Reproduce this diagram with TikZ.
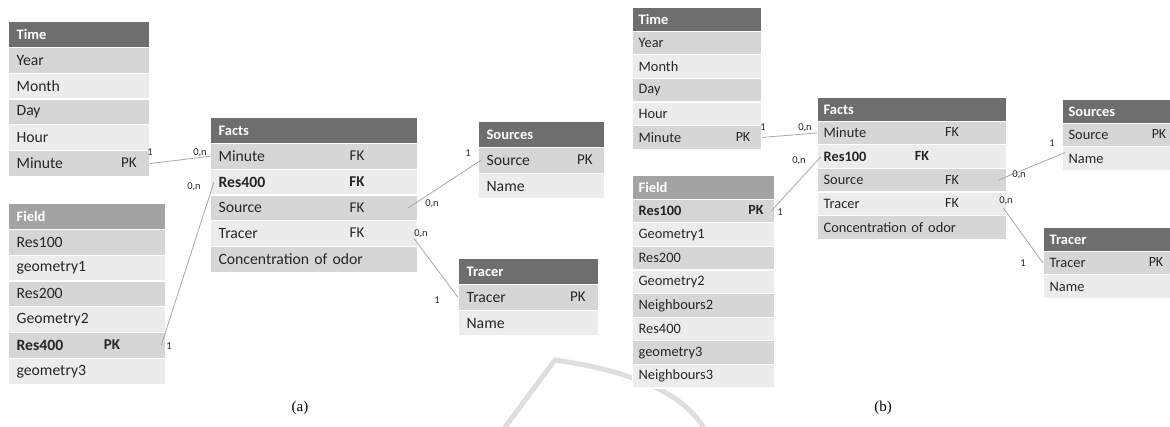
\documentclass[tikz,border=0pt]{standalone}
\usepackage{fontspec}
\newfontfamily\calib{Carlito}
\newfontfamily\capfont{Liberation Serif}
\definecolor{hdr}{HTML}{6E6E6E}
\definecolor{hdrl}{HTML}{A3A3A3}
\definecolor{rowd}{HTML}{D6D6D6}
\definecolor{rowl}{HTML}{ECECEC}
\definecolor{txt}{HTML}{262626}
\definecolor{lnk}{HTML}{A8A8A8}
\tikzset{
  cell/.style={draw=white, line width=1.2pt, anchor=north west, inner ysep=0pt, align=left, text=txt},
  cella/.style={cell, inner xsep=8pt, minimum height=25.8pt, font=\calib\fontsize{15.7}{16}\selectfont},
  cellb/.style={cell, inner xsep=6pt, minimum height=23.6pt, font=\calib\fontsize{14.4}{15}\selectfont},
  tw/.style={text width=#1pt},
  hd/.style={fill=hdr, text=white, font=\calib\bfseries\fontsize{14.5}{15}\selectfont},
  hdl/.style={hd, fill=hdrl},
  rd/.style={fill=rowd},
  rl/.style={fill=rowl},
  keya/.style={text=txt, inner sep=0pt, font=\calib\fontsize{15}{15}\selectfont},
  keyb/.style={text=txt, inner sep=0pt, font=\calib\fontsize{14}{14}\selectfont},
  card/.style={text=txt, inner sep=0pt, font=\calib\fontsize{10.5}{10.5}\selectfont},
  link/.style={draw=lnk, line width=0.8pt},
}
\begin{document}
\begin{tikzpicture}[x=1pt, y=-1pt]
  \useasboundingbox (0,0) rectangle (1170,427);
  \clip (0,0) rectangle (1170,427);
  \draw[draw=black!13, line width=5pt] (503,430) -- (555,360) .. controls (610,368) and (680,385) .. (705,430);
  % (a)
  \node[cella, tw=125, hd] (ta0) at (8,21) {Time};
  \node[cella, tw=125, rd] (ta1) at (8,46.8) {Year};
  \node[cella, tw=125, rl] (ta2) at (8,72.6) {Month};
  \node[cella, tw=125, rd] (ta3) at (8,98.4) {Day};
  \node[cella, tw=125, rl] (ta4) at (8,124.2) {Hour};
  \node[cella, tw=125, rd] (ta5) at (8,150) {Minute};
  \node[keya] (ta5k) at (129,162.9) {PK};
  \node[cella, tw=141, hdl] (fa0) at (8,203) {Field};
  \node[cella, tw=141, rd] (fa1) at (8,228.8) {Res100};
  \node[cella, tw=141, rl] (fa2) at (8,254.6) {geometry1};
  \node[cella, tw=141, rd] (fa3) at (8,280.4) {Res200};
  \node[cella, tw=141, rl] (fa4) at (8,306.2) {Geometry2};
  \node[cella, tw=141, rd] (fa5) at (8,332) {\textbf{Res400}};
  \node[cella, tw=141, rl] (fa6) at (8,357.8) {geometry3};
  \node[keya] (fa5k) at (112,344.9) {\textbf{PK}};
  \node[cella, tw=191, hd] (xa0) at (210,117) {Facts};
  \node[cella, tw=191, rd] (xa1) at (210,142.8) {Minute};
  \node[cella, tw=191, rl] (xa2) at (210,168.6) {\textbf{Res400}};
  \node[cella, tw=191, rd] (xa3) at (210,194.4) {Source};
  \node[cella, tw=191, rl] (xa4) at (210,220.2) {Tracer};
  \node[cella, tw=191, rd] (xa5) at (210,246) {Concentration of odor};
  \node[keya] (xa1k) at (357,155.7) {FK};
  \node[keya] (xa2k) at (357,181.5) {\textbf{FK}};
  \node[keya] (xa3k) at (357,207.3) {FK};
  \node[keya] (xa4k) at (357,233.1) {FK};
  \node[cella, tw=110, hd] (sa0) at (478,121) {Sources};
  \node[cella, tw=110, rd] (sa1) at (478,146.8) {Source};
  \node[cella, tw=110, rl] (sa2) at (478,172.6) {Name};
  \node[keya] (sa1k) at (585,159.7) {PK};
  \node[cella, tw=124, hd] (ra0) at (458,258) {Tracer};
  \node[cella, tw=124, rd] (ra1) at (458,283.8) {Tracer};
  \node[cella, tw=124, rl] (ra2) at (458,309.6) {Name};
  \node[keya] (ra1k) at (578,296.7) {PK};
  \draw[link] (ta5.east) -- (xa1.west);
  \draw[link] ([xshift=-5pt]fa5.east) -- ([xshift=4pt]xa2.west);
  \draw[link] ([xshift=-10pt]xa3.east) -- ([xshift=3pt]sa1.west);
  \draw[link] ([shift={(-4,5)}]xa4.east) -- (ra1.west);
  \node[card] at (150,152) {1};
  \node[card] at (200,153) {0,n};
  \node[card] at (194,187) {0,n};
  \node[card] at (169,346) {1};
  \node[card] at (432,204) {0,n};
  \node[card] at (468,153) {1};
  \node[card] at (421,234) {0,n};
  \node[card] at (437,300) {1};
  \node[font=\capfont\fontsize{15}{15}\selectfont] (capa) at (300,408) {(a)};
  % (b)
  \node[cellb, tw=117, hd] (tb0) at (632,7) {Time};
  \node[cellb, tw=117, rd] (tb1) at (632,30.6) {Year};
  \node[cellb, tw=117, rl] (tb2) at (632,54.2) {Month};
  \node[cellb, tw=117, rd] (tb3) at (632,77.8) {Day};
  \node[cellb, tw=117, rl] (tb4) at (632,101.4) {Hour};
  \node[cellb, tw=117, rd] (tb5) at (632,125) {Minute};
  \node[keyb] (tb5k) at (743,136.8) {PK};
  \node[cellb, tw=130, hdl] (fb0) at (632,175) {Field};
  \node[cellb, tw=130, rd] (fb1) at (632,198.6) {\textbf{Res100}};
  \node[cellb, tw=130, rl] (fb2) at (632,222.2) {Geometry1};
  \node[cellb, tw=130, rd] (fb3) at (632,245.8) {Res200};
  \node[cellb, tw=130, rl] (fb4) at (632,269.4) {Geometry2};
  \node[cellb, tw=130, rd] (fb5) at (632,293) {Neighbours2};
  \node[cellb, tw=130, rl] (fb6) at (632,316.6) {Res400};
  \node[cellb, tw=130, rd] (fb7) at (632,340.2) {geometry3};
  \node[cellb, tw=130, rl] (fb8) at (632,363.8) {Neighbours3};
  \node[keyb] (fb1k) at (756,210.4) {\textbf{PK}};
  \node[cellb, tw=177, hd] (xb0) at (817,97) {Facts};
  \node[cellb, tw=177, rd] (xb1) at (817,120.6) {Minute};
  \node[cellb, tw=177, rl] (xb2) at (817,144.2) {\textbf{Res100}};
  \node[cellb, tw=177, rd] (xb3) at (817,167.8) {Source};
  \node[cellb, tw=177, rl] (xb4) at (817,191.4) {Tracer};
  \node[cellb, tw=177, rd] (xb5) at (817,215) {Concentration of odor};
  \node[keyb] (xb1k) at (952,132.4) {FK};
  \node[keyb] (xb2k) at (922,156) {\textbf{FK}};
  \node[keyb] (xb3k) at (952,179.6) {FK};
  \node[keyb] (xb4k) at (952,203.2) {FK};
  \node[cellb, tw=128, hd] (sb0) at (1062,99) {Sources};
  \node[cellb, tw=128, rd] (sb1) at (1062,122.6) {Source};
  \node[cellb, tw=128, rl] (sb2) at (1062,146.2) {Name};
  \node[keyb] (sb1k) at (1159,134.4) {PK};
  \node[cellb, tw=138, hd] (rb0) at (1043,227) {Tracer};
  \node[cellb, tw=138, rd] (rb1) at (1043,250.6) {Tracer};
  \node[cellb, tw=138, rl] (rb2) at (1043,274.2) {Name};
  \node[keyb] (rb1k) at (1156,262.4) {PK};
  \draw[link] (tb5.east) -- (xb1.west);
  \draw[link] ([xshift=-4pt]fb1.east) -- ([xshift=4pt]xb2.west);
  \draw[link] ([xshift=-9pt]xb3.east) -- ([shift={(3,-6)}]sb2.west);
  \draw[link] ([shift={(-4,4)}]xb4.east) -- (rb1.west);
  \node[card] at (763,127) {1};
  \node[card] at (805,128) {0,n};
  \node[card] at (799,161) {0,n};
  \node[card] at (780,212) {1};
  \node[card] at (1019,175) {0,n};
  \node[card] at (1052,143) {1};
  \node[card] at (1006,201) {0,n};
  \node[card] at (1023,263) {1};
  \node[font=\capfont\fontsize{15}{15}\selectfont] (capb) at (883,408) {(b)};
\end{tikzpicture}
\end{document}
